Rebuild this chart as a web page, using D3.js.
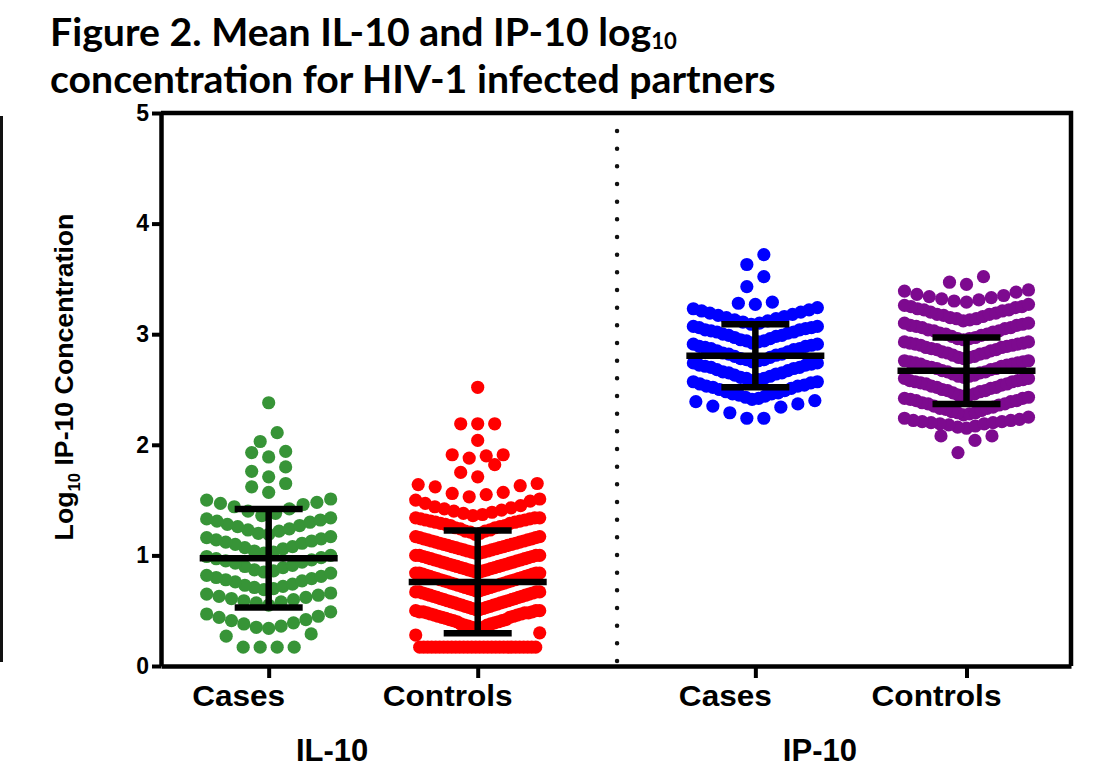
<!DOCTYPE html>
<html>
<head>
<meta charset="utf-8">
<script src="https://cdn.jsdelivr.net/npm/d3@7"></script>
<style>
    body { margin: 0; background: #fff; }
    svg text { font-family: "Liberation Sans", Arial, sans-serif; font-weight: bold; fill: #000; }
</style>
</head>
<body>
<svg id="chart" width="1094" height="775"></svg>
<script>
// values (log10 concentration), one per dot
const il10Cases = [
    0.17, 0.17, 0.17, 0.17, 0.27, 0.29,
    0.34, 0.35, 0.36, 0.38, 0.39, 0.41, 0.42, 0.44, 0.45, 0.47, 0.49,
    0.55, 0.57, 0.58, 0.59, 0.60, 0.61, 0.62, 0.63, 0.64, 0.65, 0.66,
    0.69, 0.70, 0.71, 0.72, 0.73, 0.74, 0.76, 0.77, 0.78, 0.79, 0.80, 0.81, 0.82, 0.84,
    0.85, 0.86, 0.87, 0.89, 0.90, 0.91, 0.93, 0.94, 0.95, 0.96, 0.97, 0.98, 0.99, 1.00,
    1.02, 1.03, 1.04, 1.06, 1.07, 1.08, 1.10, 1.11, 1.12, 1.13, 1.14, 1.15, 1.16, 1.17,
    1.19, 1.20, 1.22, 1.23, 1.24, 1.26, 1.27, 1.28, 1.30, 1.31, 1.32, 1.33, 1.34,
    1.36, 1.38, 1.40, 1.42, 1.44, 1.46, 1.47, 1.48, 1.50, 1.51,
    1.57, 1.62, 1.65,
    1.71, 1.76, 1.80,
    1.89, 1.93, 1.94,
    2.03, 2.11,
    2.38
];

const il10Controls = [
    0.17, 0.17, 0.17, 0.17, 0.17, 0.17, 0.17, 0.17, 0.17, 0.17,
    0.17, 0.17, 0.17, 0.17, 0.17, 0.17, 0.17, 0.17, 0.17, 0.17,
    0.17, 0.17, 0.17, 0.17, 0.17, 0.17, 0.17, 0.17, 0.17, 0.17, 0.28, 0.30,
    0.34, 0.34, 0.35, 0.35, 0.36, 0.37, 0.37, 0.38, 0.38, 0.39, 0.40, 0.40, 0.41, 0.41, 0.42, 0.42, 0.43,
    0.44, 0.44, 0.45, 0.45, 0.46, 0.46, 0.47, 0.47, 0.48, 0.48, 0.48, 0.49, 0.49, 0.49, 0.50, 0.50, 0.50,
    0.51, 0.51, 0.52, 0.52, 0.53, 0.53, 0.54, 0.54, 0.55, 0.55, 0.56, 0.56, 0.57, 0.57, 0.58, 0.58, 0.59, 0.59,
    0.60, 0.60, 0.61, 0.61, 0.62, 0.62, 0.63, 0.63, 0.64, 0.64, 0.65, 0.65, 0.66, 0.66, 0.67, 0.67, 0.67, 0.67,
    0.68, 0.68, 0.69, 0.69, 0.70, 0.70, 0.71, 0.71, 0.72, 0.72, 0.73, 0.73, 0.74, 0.74, 0.75, 0.75, 0.76, 0.76,
    0.77, 0.77, 0.78, 0.78, 0.79, 0.79, 0.80, 0.80, 0.81, 0.81, 0.82, 0.82, 0.83, 0.83, 0.84, 0.84, 0.84, 0.84,
    0.85, 0.85, 0.86, 0.86, 0.87, 0.87, 0.88, 0.88, 0.89, 0.89, 0.90, 0.90, 0.91, 0.91, 0.92, 0.92, 0.93,
    0.93, 0.94, 0.94, 0.95, 0.95, 0.96, 0.96, 0.97, 0.97, 0.98, 0.98, 0.99, 0.99, 1.00, 1.00, 1.00, 1.00,
    1.02, 1.02, 1.03, 1.03, 1.04, 1.04, 1.05, 1.05, 1.06, 1.06, 1.07, 1.07, 1.08, 1.08, 1.09, 1.09,
    1.10, 1.10, 1.11, 1.11, 1.12, 1.12, 1.13, 1.13, 1.14, 1.14, 1.15, 1.15, 1.16, 1.16, 1.17, 1.17,
    1.19, 1.20, 1.21, 1.22, 1.22, 1.23, 1.24, 1.25, 1.25, 1.26, 1.27, 1.27, 1.28,
    1.29, 1.29, 1.30, 1.30, 1.31, 1.31, 1.32, 1.32, 1.33, 1.33, 1.34, 1.34, 1.34,
    1.36, 1.37, 1.38, 1.39, 1.40, 1.41, 1.42, 1.43, 1.44, 1.45, 1.47, 1.49, 1.50, 1.51,
    1.53, 1.55, 1.56, 1.57, 1.62, 1.63, 1.64, 1.65,
    1.71, 1.75, 1.82,
    1.88, 1.90, 1.91, 1.91,
    2.04,
    2.19, 2.19, 2.19,
    2.52
];

const ip10Cases = [
    2.24, 2.24, 2.29, 2.34, 2.35, 2.37, 2.39, 2.40,
    2.41, 2.42, 2.43, 2.44, 2.45, 2.46, 2.46, 2.47, 2.48, 2.49,
    2.50, 2.51, 2.52, 2.53, 2.53, 2.54, 2.55, 2.56, 2.57, 2.57,
    2.58, 2.59, 2.60, 2.60, 2.61, 2.62, 2.63, 2.64, 2.65, 2.65, 2.66,
    2.67, 2.68, 2.69, 2.70, 2.70, 2.71, 2.72, 2.72, 2.73, 2.74, 2.74,
    2.75, 2.76, 2.77, 2.77, 2.78, 2.79, 2.80, 2.81, 2.82, 2.82, 2.83,
    2.84, 2.85, 2.86, 2.87, 2.87, 2.88, 2.89, 2.89, 2.90, 2.91, 2.91,
    2.92, 2.93, 2.94, 2.94, 2.95, 2.96, 2.97, 2.98, 2.99, 2.99, 3.00,
    3.01, 3.02, 3.02, 3.03, 3.04, 3.04, 3.05, 3.06, 3.06, 3.07, 3.07,
    3.09, 3.10, 3.11, 3.12, 3.13, 3.14, 3.15, 3.16, 3.17, 3.18, 3.19, 3.20, 3.21, 3.22, 3.23, 3.24,
    3.27, 3.28, 3.29,
    3.43, 3.52,
    3.63, 3.72
];

const ip10Controls = [
    1.93, 2.04, 2.08, 2.08,
    2.15, 2.16, 2.17, 2.18, 2.19, 2.19, 2.20, 2.20, 2.21, 2.21, 2.22, 2.22, 2.23, 2.24, 2.25,
    2.27, 2.28, 2.29, 2.29, 2.30, 2.31, 2.32, 2.33, 2.33, 2.34, 2.35,
    2.36, 2.37, 2.37, 2.38, 2.39, 2.40, 2.40, 2.41, 2.42, 2.42, 2.43,
    2.44, 2.45, 2.45, 2.46, 2.47, 2.48, 2.49, 2.49, 2.50, 2.51, 2.52, 2.52,
    2.53, 2.54, 2.55, 2.55, 2.56, 2.57, 2.57, 2.58, 2.58, 2.59, 2.60, 2.60,
    2.61, 2.62, 2.62, 2.63, 2.64, 2.65, 2.66, 2.66, 2.67, 2.68, 2.69, 2.69,
    2.70, 2.71, 2.71, 2.72, 2.73, 2.73, 2.74, 2.74, 2.75, 2.75, 2.76, 2.76,
    2.78, 2.79, 2.79, 2.80, 2.81, 2.82, 2.83, 2.83, 2.84, 2.85, 2.86, 2.86,
    2.87, 2.88, 2.88, 2.89, 2.90, 2.90, 2.91, 2.91, 2.92, 2.92, 2.93, 2.93,
    2.95, 2.96, 2.96, 2.97, 2.98, 2.99, 3.00, 3.00, 3.01, 3.02, 3.03,
    3.03, 3.04, 3.05, 3.06, 3.06, 3.07, 3.08, 3.08, 3.09, 3.10, 3.10,
    3.12, 3.13, 3.14, 3.14, 3.15, 3.16, 3.17, 3.18, 3.18, 3.19,
    3.20, 3.21, 3.22, 3.22, 3.23, 3.24, 3.25, 3.25, 3.26, 3.27,
    3.29, 3.30, 3.31, 3.32, 3.33, 3.34, 3.35, 3.36, 3.38, 3.39, 3.40,
    3.45, 3.47, 3.52
];

const groupNames = ['Cases', 'Controls', 'Cases', 'Controls'];
const panelNames = ['IL-10', 'IP-10'];
const groupMeans = [0.975, 0.76, 2.805, 2.67];
const groupSDs = [0.445, 0.465, 0.285, 0.30];
const yTicks = [0, 1, 2, 3, 4, 5];

const groupValues = [il10Cases, il10Controls, ip10Cases, ip10Controls];
const groupColors = ['#379437', '#ff0000', '#0000ff', '#7d0a8f'];

// layout
const slotPos = [1.02, 3.0, 5.63, 7.63];
const dividerPos = 4.32;
const dotR = 6.6;
const binStep = 0.168;   // value height of one row of dots
const maxGap = 17;       // widest spacing of dots in a row
const maxSpan = 124;     // widest row, centre to centre

const svg = d3.select('#chart');

const x = d3.scaleLinear().domain([0, 8.62]).range([161, 1071]);
const y = d3.scaleLinear().domain([0, 5]).range([666, 113]);

// rows of dots like a scatter dot plot: bin by value, spread from the centre out
function swarm(values, cx) {
    const base = d3.min(values);
    const bins = d3.groups(values, v => Math.floor((v - base) / binStep + 1e-6));
    let pts = [];
    bins.forEach(([b, vals]) => {
        vals = vals.slice().sort(d3.ascending);
        let n = vals.length;
        let gap = n > 1 ? Math.min(maxGap, maxSpan / (n - 1)) : 0;
        let slots = d3.range(n).map(i => (i - (n - 1) / 2) * gap);
        slots.sort((a, b) => Math.abs(a) - Math.abs(b) || a - b);
        vals.forEach((v, i) => pts.push({ v: v, x: cx + slots[i] }));
    });
    return pts;
}

// title
let title = svg.append('g');
let t1 = title.append('text').attr('y', 46)
    .style('font-family', 'Lato, "Open Sans", sans-serif').style('font-size', '39px');
t1.append('tspan').text('Figure 2. Mean IL-10 and IP-10 log');
t1.append('tspan').attr('dy', 3).style('font-size', '22px').text('10');
let t2 = title.append('text').attr('y', 93)
    .style('font-family', 'Lato, "Open Sans", sans-serif').style('font-size', '39px')
    .text('concentration for HIV-1 infected partners');
let tw = t2.node().getComputedTextLength();
title.attr('transform', `translate(50,0) scale(${726 / tw},1)`);

// stray rule on the left edge
svg.append('line')
    .attr('x1', 1.5).attr('x2', 1.5).attr('y1', 116).attr('y2', 662)
    .attr('stroke', '#111').attr('stroke-width', 3);

// dots
groupValues.forEach((vals, gi) => {
    svg.append('g').selectAll('circle')
        .data(swarm(vals, x(slotPos[gi])))
        .enter()
        .append('circle')
        .attr('cx', d => d.x)
        .attr('cy', d => y(d.v))
        .attr('r', dotR)
        .attr('fill', groupColors[gi]);
});

// mean and SD bars
groupMeans.forEach((m, gi) => {
    let cx = x(slotPos[gi]);
    let sd = groupSDs[gi];
    let g = svg.append('g').attr('stroke', '#000').attr('stroke-width', 6.5);
    g.append('line').attr('x1', cx).attr('x2', cx).attr('y1', y(m + sd)).attr('y2', y(m - sd));
    g.append('line').attr('x1', cx - 69).attr('x2', cx + 69).attr('y1', y(m)).attr('y2', y(m));
    g.append('line').attr('x1', cx - 34).attr('x2', cx + 34).attr('y1', y(m + sd)).attr('y2', y(m + sd));
    g.append('line').attr('x1', cx - 34).attr('x2', cx + 34).attr('y1', y(m - sd)).attr('y2', y(m - sd));
});

// dotted divider
svg.append('line')
    .attr('x1', x(dividerPos)).attr('x2', x(dividerPos))
    .attr('y1', 131).attr('y2', 662)
    .attr('stroke', '#111').attr('stroke-width', 4.5)
    .attr('stroke-linecap', 'round')
    .attr('stroke-dasharray', `0 ${(661 - 131) / 30}`);

// frame top and right
svg.append('path')
    .attr('d', `M${x(0)},${y(5)}H${x(8.62)}V${y(0)}`)
    .attr('fill', 'none').attr('stroke', '#000').attr('stroke-width', 4.5);

// axes
let yAxis = svg.append('g')
    .attr('transform', `translate(${x(0)},0)`)
    .call(d3.axisLeft(y).tickValues(yTicks).tickFormat(d3.format('d'))
        .tickSize(9).tickSizeOuter(0).tickPadding(3));
yAxis.select('.domain').attr('stroke-width', 4.5);
yAxis.selectAll('.tick line').attr('stroke-width', 4);
yAxis.selectAll('.tick text')
    .style('font-size', '23px').style('font-family', '"Liberation Sans", Arial, sans-serif');

let xAxis = svg.append('g')
    .attr('transform', `translate(0,${y(0)})`)
    .call(d3.axisBottom(x).tickValues(slotPos).tickFormat('').tickSize(12).tickSizeOuter(0));
xAxis.select('.domain').attr('stroke-width', 4.5);
xAxis.selectAll('.tick line').attr('stroke-width', 4);

// category labels, set left of their ticks as in the figure
groupNames.forEach((name, gi) => {
    svg.append('text')
        .attr('x', x(slotPos[gi]) - 30)
        .attr('y', 706)
        .attr('text-anchor', 'middle')
        .attr('textLength', name === 'Cases' ? 93 : 130)
        .attr('lengthAdjust', 'spacingAndGlyphs')
        .style('font-size', '30px')
        .text(name);
});

panelNames.forEach((name, pi) => {
    let mid = (x(slotPos[pi * 2]) + x(slotPos[pi * 2 + 1])) / 2;
    svg.append('text')
        .attr('x', mid - 41)
        .attr('y', 761)
        .attr('text-anchor', 'middle')
        .style('font-size', '31px')
        .text(name);
});

// y axis title
let yl = svg.append('text').attr('text-anchor', 'middle').style('font-size', '24px');
yl.append('tspan').text('Log');
yl.append('tspan').attr('dy', 6).style('font-size', '15px').text('10');
yl.append('tspan').attr('dy', -6).text(' IP-10 Concentration');
let yw = yl.node().getComputedTextLength();
yl.attr('transform', `translate(73,377) rotate(-90) scale(${327 / yw})`);
</script>
</body>
</html>
